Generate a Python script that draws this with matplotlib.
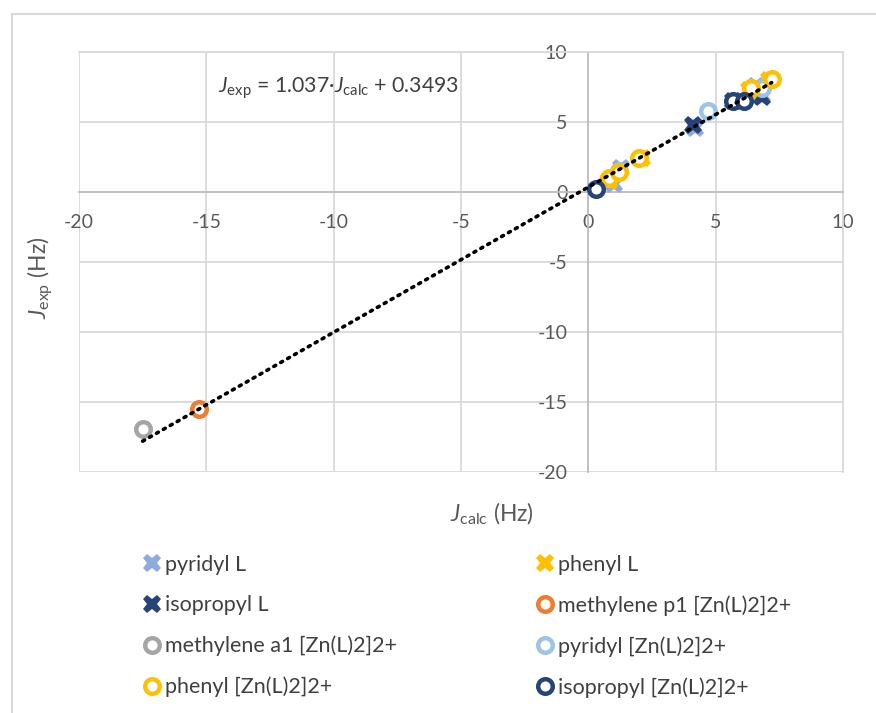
import matplotlib
matplotlib.use("Agg")
import matplotlib.pyplot as plt
import numpy as np
from matplotlib.lines import Line2D

plt.rcParams["font.family"] = ["Lato", "DejaVu Sans"]
plt.rcParams["mathtext.fontset"] = "custom"
plt.rcParams["mathtext.rm"] = "Lato"
plt.rcParams["mathtext.it"] = "Lato:italic"
plt.rcParams["axes.unicode_minus"] = False

# data (J_calc, J_exp) in Hz
pyridyl_L_calc = [1.0, 1.3, 4.2, 6.8, 6.6]
pyridyl_L_exp = [0.6, 1.7, 4.6, 6.9, 7.6]
phenyl_L_calc = [0.8, 2.1, 7.1, 6.3]
phenyl_L_exp = [0.8, 2.4, 8.0, 7.3]
isopropyl_L_calc = [4.1, 6.8, 5.7]
isopropyl_L_exp = [4.8, 6.8, 6.5]
methylene_p1_calc = [-15.3]
methylene_p1_exp = [-15.5]
methylene_a1_calc = [-17.5]
methylene_a1_exp = [-16.9]
pyridyl_Zn_calc = [4.7, 1.2, 6.8]
pyridyl_Zn_exp = [5.8, 1.5, 7.4]
phenyl_Zn_calc = [0.8, 1.2, 2.0, 6.4, 7.2]
phenyl_Zn_exp = [1.0, 1.4, 2.4, 7.4, 8.1]
isopropyl_Zn_calc = [0.3, 5.7, 6.1]
isopropyl_Zn_exp = [0.2, 6.5, 6.5]

slope, intercept = 1.037, 0.3493

fig = plt.figure(figsize=(8.76, 7.13), dpi=100)
ax = fig.add_axes([79 / 876, 1 - 472 / 713, 764 / 876, 420 / 713])

grid_c = "#D9D9D9"
ax.set_xlim(-20, 10)
ax.set_ylim(-20, 10)
ax.set_xticks(np.arange(-20, 11, 5))
ax.set_yticks(np.arange(-20, 11, 5))
ax.grid(True, color=grid_c, lw=1.3, zorder=0)
ax.spines["left"].set_position(("data", 0))
ax.spines["bottom"].set_position(("data", 0))
for s in ["left", "bottom"]:
    ax.spines[s].set_color("#BFBFBF")
    ax.spines[s].set_linewidth(1.3)
for s in ["top", "right"]:
    ax.spines[s].set_color(grid_c)
    ax.spines[s].set_linewidth(1.3)
ax.tick_params(length=0, labelsize=14, colors="#595959")
ax.tick_params(axis="x", pad=16)
ax.tick_params(axis="y", pad=15)

cross = dict(marker="X", ms=13, mew=0, ls="none", zorder=3)
ring = dict(marker="o", ms=10.5, mew=3.2, mfc="white", ls="none", zorder=3)

series = [
    ("pyridyl L", pyridyl_L_calc, pyridyl_L_exp, cross, "#8FAADC"),
    ("phenyl L", phenyl_L_calc, phenyl_L_exp, cross, "#FFC000"),
    ("isopropyl L", isopropyl_L_calc, isopropyl_L_exp, cross, "#264478"),
    ("methylene p1 [Zn(L)2]2+", methylene_p1_calc, methylene_p1_exp, ring, "#ED7D31"),
    ("methylene a1 [Zn(L)2]2+", methylene_a1_calc, methylene_a1_exp, ring, "#A5A5A5"),
    ("pyridyl [Zn(L)2]2+", pyridyl_Zn_calc, pyridyl_Zn_exp, ring, "#9DC3E6"),
    ("phenyl [Zn(L)2]2+", phenyl_Zn_calc, phenyl_Zn_exp, ring, "#FFC000"),
    ("isopropyl [Zn(L)2]2+", isopropyl_Zn_calc, isopropyl_Zn_exp, ring, "#264478"),
]

handles = []
for name, xs, ys, style, col in series:
    if style is cross:
        h, = ax.plot(xs, ys, color=col, mfc=col, label=name, **style)
    else:
        h, = ax.plot(xs, ys, mec=col, label=name, **style)
    handles.append(h)

# linear trend line over the data range
all_x = np.concatenate([s[1] for s in series])
tx = np.array([all_x.min(), all_x.max()])
ax.plot(tx, slope * tx + intercept, color="black", lw=2.6,
        ls=(0, (0.6, 1.6)), dash_capstyle="round", zorder=4)

ax.text(-9.8, 7.4, r"$\mathit{J}_\mathrm{exp}$ = 1.037·$\mathit{J}_\mathrm{calc}$ + 0.3493",
        fontsize=15.3, color="#404040", ha="center", va="center")

fig.text(492 / 876, 1 - 514 / 713, r"$\mathit{J}_\mathrm{calc}$ (Hz)", fontsize=16.5,
         color="#595959", ha="center", va="center")
fig.text(40 / 876, 1 - 278 / 713, r"$\mathit{J}_\mathrm{exp}$ (Hz)", fontsize=16.5,
         color="#595959", ha="center", va="center", rotation=90)

# legend in two columns, filled row by row
leg_kw = dict(frameon=False, fontsize=15.5, labelcolor="#404040", handlelength=0.8,
              handletextpad=0.2, labelspacing=0.95, loc="upper left", borderaxespad=0)
leg1 = fig.legend(handles=handles[0::2], bbox_to_anchor=(135 / 876, 1 - 546 / 713), **leg_kw)
leg2 = fig.legend(handles=handles[1::2], bbox_to_anchor=(528 / 876, 1 - 546 / 713), **leg_kw)

# chart area border
fig.add_artist(Line2D([12 / 876, 12 / 876], [0, 1 - 14 / 713], color=grid_c, lw=1.5))
fig.add_artist(Line2D([12 / 876, 1], [1 - 14 / 713, 1 - 14 / 713], color=grid_c, lw=1.5))

fig.savefig("out.png", dpi=100)
